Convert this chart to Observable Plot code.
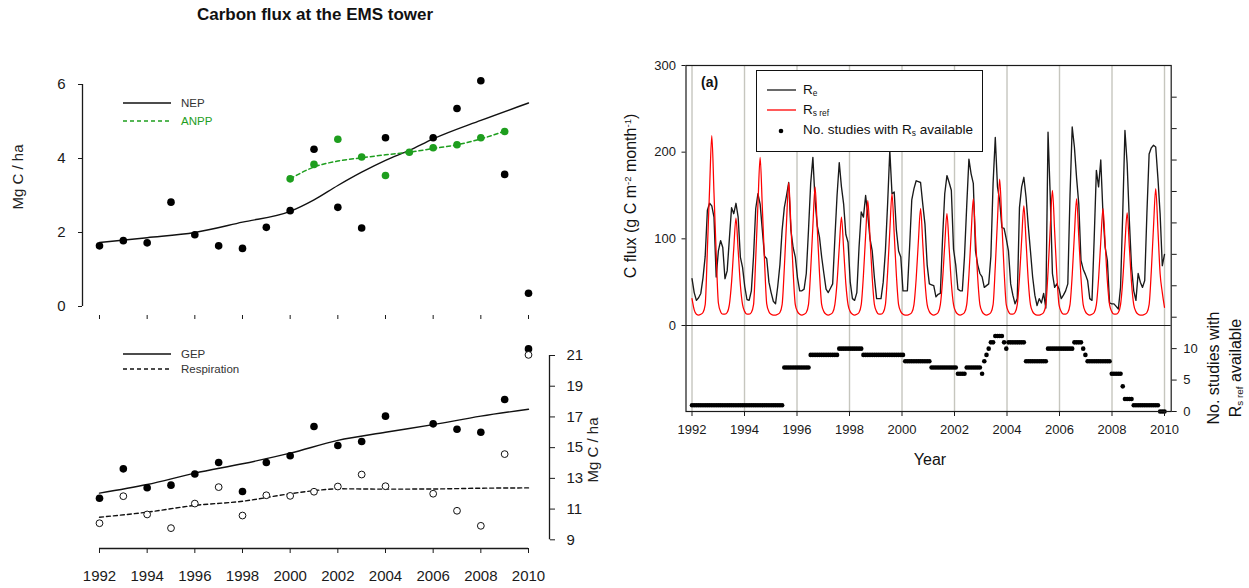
<!DOCTYPE html>
<html><head><meta charset="utf-8">
<script src="https://cdn.jsdelivr.net/npm/d3@7"></script>
<script src="https://cdn.jsdelivr.net/npm/@observablehq/plot@0.6"></script>
<style>
body{margin:0;background:#fff;font-family:"Liberation Sans",Arial,sans-serif;}
#root{position:relative;width:1249px;height:588px;overflow:hidden;background:#fff;}
.abs{position:absolute;}
.rot{position:absolute;transform:translate(-50%,-50%) rotate(-90deg);white-space:nowrap;text-align:center;}
.lab{position:absolute;white-space:nowrap;transform:translateY(-50%);}
svg{overflow:visible}
sub{font-size:0.62em;vertical-align:-0.25em;}
sup{font-size:0.6em;vertical-align:0.55em;}
</style></head><body><div id="root"></div>
<script>
// ---------- Left panels: annual data ----------
const nepYears = [1992,1993,1994,1995,1996,1997,1998,1999,2000,2001,2002,2003,2004,2006,2007,2008,2009,2010];
const nepObs   = [1.64,1.78,1.72,2.82,1.94,1.64,1.57,2.14,2.59,4.25,2.68,2.12,4.56,4.56,5.35,6.10,3.57,0.36];
const nepFitYears = [1992,1994,1996,1998,2000,2001,2002,2003,2004,2005,2006,2008,2010];
const nepFit      = [1.73,1.86,2.00,2.28,2.57,2.88,3.27,3.63,3.95,4.22,4.53,5.03,5.50];
const anppYears = [2000,2001,2002,2003,2004,2005,2006,2007,2008,2009];
const anppObs   = [3.45,3.84,4.52,4.04,3.54,4.17,4.29,4.37,4.56,4.73];
const anppFit   = [3.45,3.77,3.93,4.02,4.10,4.17,4.27,4.37,4.53,4.74];

const gepYears = [1992,1993,1994,1995,1996,1997,1998,1999,2000,2001,2002,2003,2004,2006,2007,2008,2009,2010];
const gepObs   = [11.71,13.62,12.39,12.56,13.28,14.03,12.15,14.03,14.47,16.38,15.14,15.40,17.05,16.55,16.20,16.00,18.14,21.43];
const respObs  = [10.08,11.84,10.65,9.76,11.36,12.43,10.58,11.90,11.86,12.13,12.47,13.25,12.49,12.00,10.89,9.91,14.58,21.04];
const fitYears = [1992,1994,1996,1998,2000,2002,2004,2006,2008,2010];
const gepFit   = [12.04,12.60,13.34,13.95,14.64,15.47,16.00,16.50,17.05,17.50];
const respFitYears = [1992,1994,1996,1998,2000,2001,2002,2004,2006,2008,2010];
const respFit      = [10.47,10.80,11.24,11.51,12.00,12.20,12.32,12.30,12.31,12.36,12.38];

const evenYears = [1992,1994,1996,1998,2000,2002,2004,2006,2008,2010];
const topTicks = [0,2,4,6];
const bottomTicks = [9,11,13,15,17,19,21];

// ---------- Right panel: monthly data, Jan 1992 - Dec 2009 ----------
const monthYears = [1992,1993,1994,1995,1996,1997,1998,1999,2000,2001,2002,2003,2004,2005,2006,2007,2008,2009];
const reMonthly = [
  [54,38,29,32,37,55,80,133,141,138,125,56],
  [86,98,90,54,63,100,136,129,141,125,79,67],
  [45,30,29,40,80,135,152,140,110,80,77,50],
  [38,28,25,45,70,110,136,150,165,110,90,79],
  [55,40,40,42,60,110,164,194,144,115,102,79],
  [60,42,38,43,48,100,150,188,160,140,105,96],
  [50,31,29,38,90,131,125,150,127,100,86,55],
  [31,31,31,50,86,140,202,152,154,110,86,79],
  [40,40,40,90,145,158,167,166,165,140,117,70],
  [48,47,46,33,36,37,100,152,173,165,156,88],
  [70,42,40,40,80,138,192,175,164,86,70,60],
  [56,44,46,48,80,164,217,160,144,113,112,100],
  [86,48,35,25,31,136,160,171,148,115,86,56],
  [35,23,31,26,37,20,223,150,60,44,48,42],
  [31,35,40,48,150,229,206,170,140,75,65,59],
  [52,31,29,100,179,160,191,129,90,75,26,25],
  [25,22,19,44,130,225,187,121,67,40,29,60],
  [50,44,52,130,198,205,208,206,170,129,69,82]
];
const rsMonthly = [
  [31,18,13,12,13,15,24,88,158,219,153,83],
  [26,16,13,13,15,24,50,89,124,87,47,24],
  [16,13,13,15,24,78,140,194,136,74,25,16],
  [13,12,12,13,15,24,66,119,165,116,63,24],
  [16,13,12,13,15,24,64,115,160,112,61,24],
  [16,13,12,13,15,24,50,90,125,88,48,24],
  [16,13,12,13,15,24,58,104,144,101,55,24],
  [16,13,13,15,24,61,109,152,106,58,24,16],
  [13,12,12,13,15,24,54,97,135,95,51,24],
  [16,13,12,13,15,24,52,93,129,90,49,24],
  [16,13,12,13,15,24,58,105,146,102,55,24],
  [16,13,12,13,15,24,68,122,169,118,64,24],
  [16,13,13,15,24,55,99,138,97,52,24,16],
  [13,12,12,13,15,24,62,112,156,109,59,24],
  [16,13,13,15,24,58,105,146,102,55,24,16],
  [13,12,13,15,24,54,97,135,95,51,24,16],
  [13,13,15,24,52,94,130,91,49,24,16,13],
  [12,12,13,15,24,63,114,158,111,60,38,21]
];
const studiesMonthly = [
  [1,1,1,1,1,1,1,1,1,1,1,1],
  [1,1,1,1,1,1,1,1,1,1,1,1],
  [1,1,1,1,1,1,1,1,1,1,1,1],
  [1,1,1,1,1,1,7,7,7,7,7,7],
  [7,7,7,7,7,7,9,9,9,9,9,9],
  [9,9,9,9,9,9,9,10,10,10,10,10],
  [10,10,10,10,10,10,9,9,9,9,9,9],
  [9,9,9,9,9,9,9,9,9,9,9,9],
  [9,8,8,8,8,8,8,8,8,8,8,8],
  [8,7,7,7,7,7,7,7,7,7,7,7],
  [7,6,6,6,6,7,7,7,7,7,7,7],
  [6,8,9,10,11,11,12,12,12,12,11,10],
  [11,11,11,11,11,11,11,11,8,8,8,8],
  [8,8,8,8,8,8,10,10,10,10,10,10],
  [10,10,10,10,10,10,11,11,11,11,10,9],
  [8,8,8,8,8,8,8,8,8,8,8,6],
  [6,6,6,6,4,2,2,2,2,1,1,1],
  [1,1,1,1,1,1,1,1,1,0,0,0]
];
const gridYears = evenYears;
const fluxTicks = [0,100,200,300];
const studyTicks = [0,5,10,15,20,25,30,35,40,45,50];

// ---------- build tables ----------
const zip = (xs, ys) => xs.map((x, i) => ({x, y: ys[i]}));
const nMonths = monthYears.length * 12;
const monthly = [];
monthYears.forEach((yr, yi) => {
  for (let m = 0; m < 12; m++) {
    const i = yi * 12 + m;
    monthly.push({t: 1992 + i * 18 / (nMonths - 1), re: reMonthly[yi][m], rs: rsMonthly[yi][m], n: studiesMonthly[yi][m]});
  }
});

const FONT = '"Liberation Sans", Arial, sans-serif';
const GREEN = "#1e9e1e";
const root = document.getElementById("root");
function place(el, left, top) {
  el.style.position = "absolute"; el.style.left = left + "px"; el.style.top = top + "px";
  root.appendChild(el);
}
const baseStyle = {background: "transparent", color: "#1a1a1a", fontFamily: FONT, overflow: "visible", maxWidth: "none"};

// Left x scale shared by both left panels
const leftXDomain = [1991.287, 2010.881];

// Panel A (NEP / ANPP)
const topYDomain = [-0.243, 6];
const pA = Plot.plot({
  width: 600, height: 275, marginLeft: 82, marginRight: 51, marginTop: 24, marginBottom: 20,
  x: {domain: leftXDomain}, y: {domain: topYDomain},
  style: baseStyle,
  marks: [
    Plot.ruleX([leftXDomain[0]], {y1: topTicks[0], y2: topTicks[topTicks.length - 1], stroke: "#1a1a1a", strokeWidth: 1.3}),
    Plot.axisY({ticks: topTicks, tickSize: 4, tickPadding: 13, fontSize: 15, label: null, tickFormat: String}),
    Plot.axisX({ticks: evenYears, tickSize: 4, tickFormat: () => "", label: null}),
    Plot.line(zip(nepFitYears, nepFit), {x: "x", y: "y", stroke: "#111", strokeWidth: 1.4, curve: "monotone-x"}),
    Plot.line(zip(anppYears, anppFit), {x: "x", y: "y", stroke: GREEN, strokeWidth: 1.5, strokeDasharray: "4,3", curve: "monotone-x"}),
    Plot.dot(zip(nepYears, nepObs), {x: "x", y: "y", r: 3.8, fill: "#000"}),
    Plot.dot(zip(anppYears, anppObs), {x: "x", y: "y", r: 3.8, fill: GREEN})
  ]
});
place(pA, 0, 60);

// Panel B (GEP / Respiration)
const botYDomain = [8.434, 21];
const pB = Plot.plot({
  width: 600, height: 258, marginLeft: 82, marginRight: 51, marginTop: 25, marginBottom: 40,
  x: {domain: leftXDomain}, y: {domain: botYDomain},
  style: baseStyle,
  marks: [
    Plot.ruleX([leftXDomain[1]], {y1: bottomTicks[0], y2: bottomTicks[bottomTicks.length - 1], stroke: "#1a1a1a", strokeWidth: 1.3}),
    Plot.ruleY([botYDomain[0]], {x1: evenYears[0], x2: evenYears[evenYears.length - 1], stroke: "#1a1a1a", strokeWidth: 1.3}),
    Plot.axisY({anchor: "right", ticks: bottomTicks, tickSize: 5, tickPadding: 12, fontSize: 15, label: null, tickFormat: String}),
    Plot.axisX({ticks: evenYears, tickSize: 5, tickPadding: 17, fontSize: 15, label: null, tickFormat: String}),
    Plot.line(zip(fitYears, gepFit), {x: "x", y: "y", stroke: "#111", strokeWidth: 1.4, curve: "monotone-x"}),
    Plot.line(zip(respFitYears, respFit), {x: "x", y: "y", stroke: "#111", strokeWidth: 1.4, strokeDasharray: "4,3", curve: "monotone-x"}),
    Plot.dot(zip(gepYears, gepObs), {x: "x", y: "y", r: 3.8, fill: "#000"}),
    Plot.dot(zip(gepYears, respObs), {x: "x", y: "y", r: 3.4, fill: "#fff", stroke: "#111", strokeWidth: 1})
  ]
});
place(pB, 0, 330);

// Panel C (right)
const rightXDomain = [1991.771, 2010.255];
const studyDomain = [0, 55.04];
const pC2 = Plot.plot({
  width: 629, height: 440, marginLeft: 65.5, marginRight: 78.3, marginTop: 25, marginBottom: 69,
  x: {domain: rightXDomain}, y: {domain: studyDomain},
  style: baseStyle,
  marks: [
    Plot.ruleX(gridYears, {stroke: "#c6c6be", strokeWidth: 1.4}),
    Plot.dot(monthly, {x: "t", y: "n", r: 2.3, fill: "#000"}),
    Plot.frame({stroke: "#1a1a1a", strokeWidth: 1.2}),
    Plot.axisY({anchor: "right", ticks: studyTicks, tickSize: 5, tickPadding: 7, fontSize: 13, label: null,
      tickFormat: d => d <= 10 ? String(d) : ""}),
    Plot.axisX({ticks: gridYears, tickSize: 5, tickPadding: 8, fontSize: 13, label: null, tickFormat: String})
  ]
});
place(pC2, 620, 40);

const pC1 = Plot.plot({
  width: 629, height: 440, marginLeft: 65.5, marginRight: 78.3, marginTop: 25, marginBottom: 155,
  x: {domain: rightXDomain, axis: null}, y: {domain: [fluxTicks[0], fluxTicks[fluxTicks.length - 1]]},
  style: baseStyle,
  marks: [
    Plot.ruleY([fluxTicks[0]], {stroke: "#1a1a1a", strokeWidth: 1.2}),
    Plot.line(monthly, {x: "t", y: "re", stroke: "#1a1a1a", strokeWidth: 1.35}),
    Plot.line(monthly, {x: "t", y: "rs", stroke: "#ff0000", strokeWidth: 1.25, curve: "monotone-x"}),
    Plot.axisY({ticks: fluxTicks, tickSize: 4, tickPadding: 6, fontSize: 13, label: null, tickFormat: String})
  ]
});
place(pC1, 620, 40);

// ---------- texts and legends ----------
const overlay = document.createElement("div");
overlay.innerHTML = `
<div class="abs" style="left:0;top:5px;width:630px;text-align:center;font-weight:bold;font-size:17px;color:#111;">Carbon flux at the EMS tower</div>
<div class="rot" style="left:17px;top:177px;font-size:15px;color:#222;">Mg C / ha</div>
<div class="rot" style="left:592px;top:450px;font-size:15px;color:#222;">Mg C / ha</div>
<svg class="abs" style="left:0;top:0" width="630" height="588">
  <line x1="123" y1="103" x2="171" y2="103" stroke="#111" stroke-width="1.4"/>
  <line x1="123" y1="121" x2="171" y2="121" stroke="${GREEN}" stroke-width="1.5" stroke-dasharray="4,3"/>
  <line x1="123" y1="354" x2="171" y2="354" stroke="#111" stroke-width="1.4"/>
  <line x1="123" y1="369" x2="171" y2="369" stroke="#111" stroke-width="1.4" stroke-dasharray="4,3"/>
</svg>
<div class="lab" style="left:181px;top:103px;font-size:11.5px;color:#333;">NEP</div>
<div class="lab" style="left:181px;top:121px;font-size:11.5px;color:${GREEN};">ANPP</div>
<div class="lab" style="left:181px;top:354px;font-size:11.5px;color:#333;">GEP</div>
<div class="lab" style="left:181px;top:369px;font-size:11.5px;color:#333;">Respiration</div>

<div class="lab" style="left:701px;top:82px;font-size:14px;font-weight:bold;color:#111;">(a)</div>
<div class="abs" style="left:756px;top:70px;width:225px;height:80px;border:1px solid #111;background:#fff;"></div>
<svg class="abs" style="left:0;top:0" width="1249" height="588">
  <line x1="767" y1="90" x2="796" y2="90" stroke="#1a1a1a" stroke-width="1.3"/>
  <line x1="767" y1="110" x2="796" y2="110" stroke="#ff0000" stroke-width="1.3"/>
  <circle cx="781" cy="131" r="2.3" fill="#000"/>
</svg>
<div class="lab" style="left:803px;top:90px;font-size:13.5px;color:#111;">R<sub>e</sub></div>
<div class="lab" style="left:803px;top:110px;font-size:13.5px;color:#111;">R<sub>s ref</sub></div>
<div class="lab" style="left:803px;top:130px;font-size:13.5px;color:#111;">No. studies with R<sub>s</sub> available</div>
<div class="rot" style="left:631px;top:196px;font-size:16px;color:#111;">C flux (g C m<sup>-2</sup> month<sup>-1</sup>)</div>
<div class="abs" style="left:930px;top:460px;transform:translate(-50%,-50%);font-size:16px;color:#111;">Year</div>
<div class="rot" style="left:1227px;top:368px;font-size:16px;line-height:22px;color:#111;">No. studies with<br>R<sub>s ref</sub> available</div>
`;
root.appendChild(overlay);
</script></body></html>
